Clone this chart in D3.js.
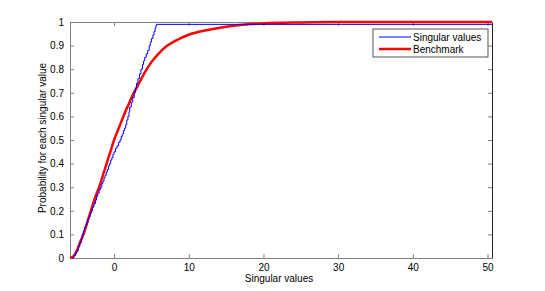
<!DOCTYPE html>
<html>
<head>
<meta charset="utf-8">
<script src="https://cdn.jsdelivr.net/npm/d3@7"></script>
<style>
  body { margin: 0; background: #fff; }
  svg { font-family: "Liberation Sans", Arial, sans-serif; }
  .axis path, .axis line { stroke: #808080; }
  .axis text { fill: #000; font-size: 10px; }
</style>
</head>
<body>
<div id="chart"></div>
<script>
'use strict';

// empirical CDF of the singular values (step points)
var blueX = [ -5.6, -5.4, -5.2, -5.0, -4.8, -4.6, -4.4, -4.25, -4.1, -3.95, -3.8, -3.65, -3.5,
  -3.35, -3.2, -3.05, -2.9, -2.7, -2.5, -2.35, -2.2, -2.0, -1.8, -1.65, -1.5, -1.35, -1.2, -1.05,
  -0.9, -0.75, -0.6, -0.45, -0.3, -0.15, 0.0, 0.2, 0.4, 0.6, 0.8, 0.95, 1.1, 1.25, 1.4, 1.55,
  1.7, 1.85, 2.0, 2.1, 2.3, 2.5, 2.7, 2.85, 3.0, 3.2, 3.4, 3.6, 3.8, 3.95, 4.1, 4.3, 4.5, 4.7,
  4.85, 5.0, 5.2, 5.35, 5.5, 5.6, 5.7, 50.6 ];
var blueY = [ 0, 0.01, 0.02, 0.03, 0.05, 0.065, 0.08, 0.10, 0.115, 0.13, 0.14, 0.15, 0.165,
  0.175, 0.19, 0.20, 0.215, 0.23, 0.245, 0.26, 0.275, 0.29, 0.30, 0.315, 0.325, 0.34, 0.35, 0.365,
  0.375, 0.39, 0.40, 0.415, 0.425, 0.44, 0.45, 0.465, 0.475, 0.49, 0.50, 0.515, 0.525, 0.54, 0.55,
  0.565, 0.585, 0.60, 0.62, 0.64, 0.66, 0.68, 0.70, 0.72, 0.74, 0.76, 0.78, 0.80, 0.82, 0.835,
  0.85, 0.865, 0.88, 0.90, 0.915, 0.93, 0.945, 0.96, 0.975, 0.985, 0.99, 0.99 ];

// benchmark curve
var redX = [ -5.9, -5.5, -5, -4.5, -4, -3.5, -3, -2.5, -2, -1.5, -1, -0.5, 0, 0.5, 1, 1.5, 2, 2.5,
  3, 3.5, 4, 5, 6, 7, 8, 9, 10, 12, 14, 16, 18, 20, 25, 30, 50.6 ];
var redY = [ 0, 0.005, 0.03, 0.07, 0.11, 0.16, 0.21, 0.26, 0.30, 0.35, 0.40, 0.45, 0.50, 0.54,
  0.58, 0.62, 0.655, 0.69, 0.72, 0.75, 0.78, 0.83, 0.867, 0.897, 0.917, 0.933, 0.946, 0.963,
  0.975, 0.984, 0.99, 0.994, 0.998, 1.0, 1.0 ];

var xTicks = [ 0, 10, 20, 30, 40, 50 ];
var yTicks = [ 0, 0.1, 0.2, 0.3, 0.4, 0.5, 0.6, 0.7, 0.8, 0.9, 1 ];
var legendLabels = [ 'Singular values', 'Benchmark' ];

var margin = { top: 22, right: 53, bottom: 33, left: 70 },
    width = 545 - margin.left - margin.right,
    height = 291 - margin.top - margin.bottom;

var svg = d3.select( '#chart' )
  .append( 'svg' )
    .attr( 'width', 545 )
    .attr( 'height', 291 )
  .append( 'g' )
    .attr( 'transform', 'translate(' + margin.left + ',' + margin.top + ')' );

var x = d3.scaleLinear().domain( [ -5.9, 50.6 ] ).range( [ 0, width ] );
var y = d3.scaleLinear().domain( [ 0, 1 ] ).range( [ height, 0 ] );

// axes, ticks pointing inward like matlab
svg.append( 'g' )
  .attr( 'class', 'axis' )
  .attr( 'transform', 'translate(0,' + height + ')' )
  .call( d3.axisBottom( x ).tickValues( xTicks ).tickSizeInner( -4 ).tickSizeOuter( 0 ).tickPadding( 6 ) );

svg.append( 'g' )
  .attr( 'class', 'axis' )
  .call( d3.axisTop( x ).tickValues( xTicks ).tickSizeInner( -4 ).tickSizeOuter( 0 ).tickFormat( '' ) );

svg.append( 'g' )
  .attr( 'class', 'axis' )
  .call( d3.axisLeft( y ).tickValues( yTicks ).tickSizeInner( -4 ).tickSizeOuter( 0 ).tickPadding( 6 )
    .tickFormat( function( d ) { return d3.format( '~g' )( d ); } ) );

svg.append( 'g' )
  .attr( 'class', 'axis' )
  .attr( 'transform', 'translate(' + width + ',0)' )
  .call( d3.axisRight( y ).tickValues( yTicks ).tickSizeInner( -4 ).tickSizeOuter( 0 ).tickFormat( '' ) );

svg.select( '.axis:last-of-type path' ).style( 'stroke', '#222' );

var line = d3.line()
  .x( function( d ) { return x( d[0] ); } )
  .y( function( d ) { return y( d[1] ); } );

svg.append( 'path' )
  .datum( d3.zip( redX, redY ) )
  .attr( 'fill', 'none' )
  .attr( 'stroke', '#ff0000' )
  .attr( 'stroke-width', 2.5 )
  .attr( 'd', line.curve( d3.curveMonotoneX ) );

svg.append( 'path' )
  .datum( d3.zip( blueX, blueY ) )
  .attr( 'fill', 'none' )
  .attr( 'stroke', '#0000ff' )
  .attr( 'stroke-width', 1 )
  .attr( 'd', line.curve( d3.curveStepAfter ) );

// legend
var legend = svg.append( 'g' )
  .attr( 'transform', 'translate(' + ( 373 - margin.left ) + ',' + ( 29 - margin.top ) + ')' );

legend.append( 'rect' )
  .attr( 'width', 115 )
  .attr( 'height', 28 )
  .attr( 'fill', '#fff' )
  .attr( 'stroke', '#555' );

var legendColors = [ '#0000ff', '#ff0000' ],
    legendWidths = [ 1, 2.5 ];
legendLabels.forEach( function( label, i ) {
  var ly = 8 + i * 12;
  legend.append( 'line' )
    .attr( 'x1', 6 ).attr( 'x2', 38 )
    .attr( 'y1', ly ).attr( 'y2', ly )
    .attr( 'stroke', legendColors[i] )
    .attr( 'stroke-width', legendWidths[i] );
  legend.append( 'text' )
    .attr( 'x', 40 )
    .attr( 'y', ly + 3.5 )
    .style( 'font-size', '10px' )
    .text( label );
} );

// axis labels
svg.append( 'text' )
  .attr( 'x', width / 2 - 2 )
  .attr( 'y', height + 24 )
  .attr( 'text-anchor', 'middle' )
  .style( 'font-size', '10px' )
  .text( 'Singular values' );

svg.append( 'text' )
  .attr( 'transform', 'rotate(-90)' )
  .attr( 'x', -height / 2 + 2 )
  .attr( 'y', -24 )
  .attr( 'text-anchor', 'middle' )
  .style( 'font-size', '10px' )
  .text( 'Probability for each singular value' );
</script>
</body>
</html>
